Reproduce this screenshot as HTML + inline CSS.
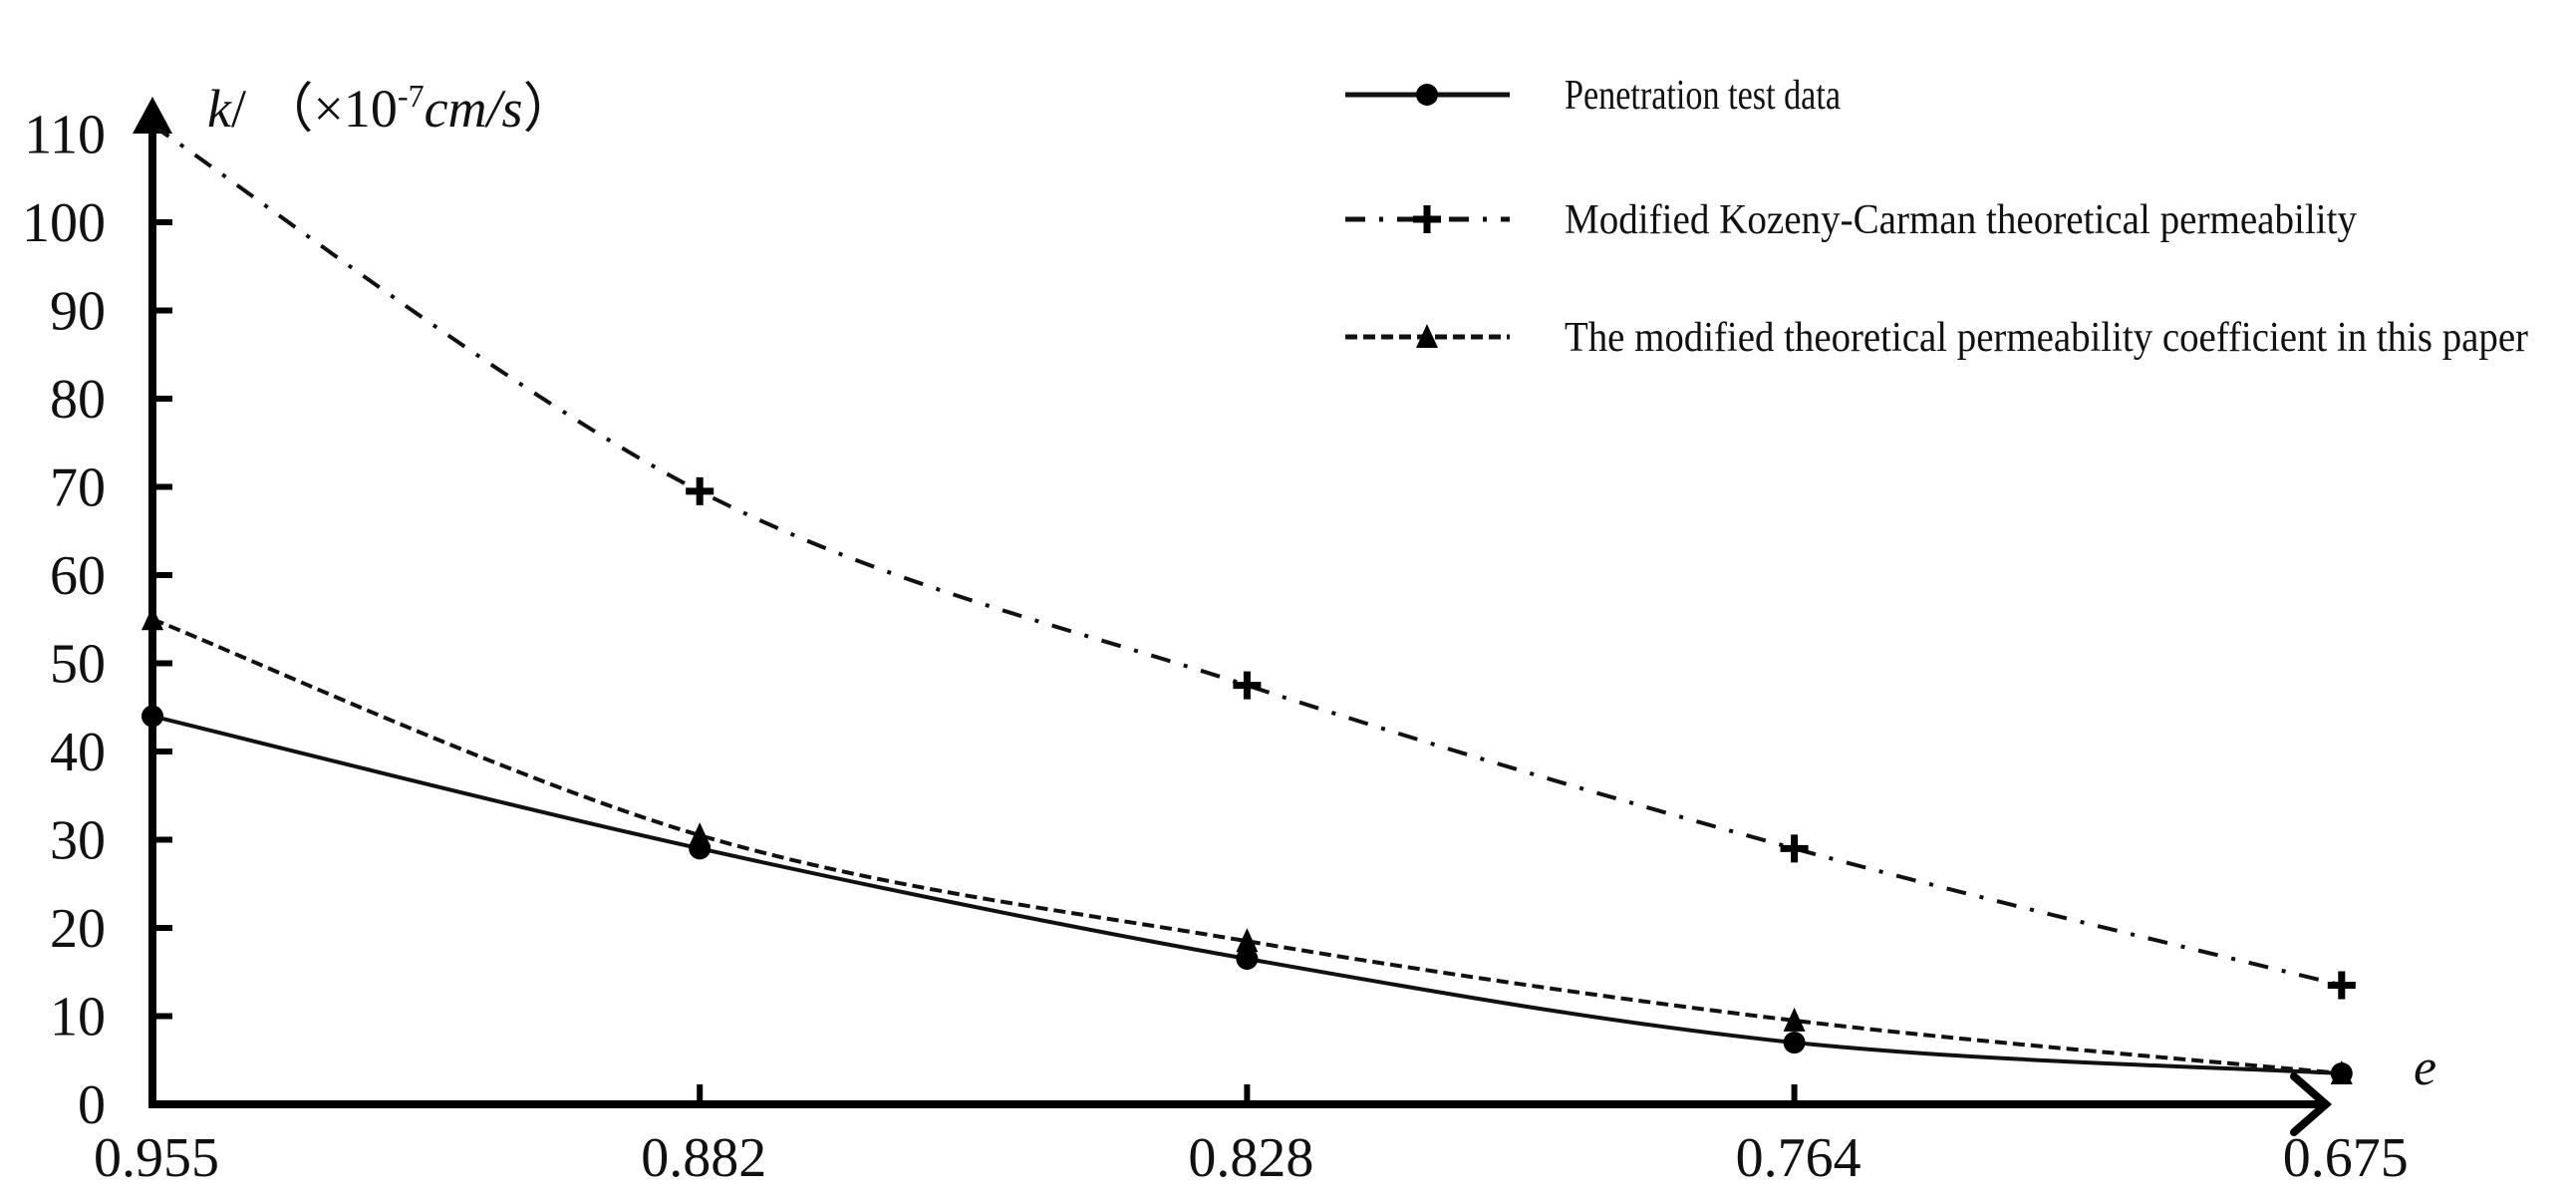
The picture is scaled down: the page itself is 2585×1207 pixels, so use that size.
<!DOCTYPE html>
<html><head><meta charset="utf-8"><style>
html,body{margin:0;padding:0;background:#fff;}
svg{display:block;}
text{font-family:"Liberation Serif",serif;fill:#111;}
</style></head><body>
<svg id="chart" width="2585" height="1207" viewBox="0 0 2585 1207" xmlns="http://www.w3.org/2000/svg">
<g id="axes"></g>
<g id="series"></g>
<g id="legend"></g>
<text x="208" y="127" font-size="54"><tspan font-style="italic">k</tspan>/ （×10<tspan font-size="32" dy="-20">-7</tspan><tspan dy="20" font-style="italic">cm/s</tspan>）</text>
<text x="2422" y="1088" font-size="52" font-style="italic">e</text>
</svg>
<script>
const categories = ["0.955","0.882","0.828","0.764","0.675"];
const yTicks = [0,10,20,30,40,50,60,70,80,90,100,110];
const penetration = [44, 29, 16.5, 7, 3.5];
const kozeny = [111, 69.5, 47.5, 29, 13.5];
const paper = [55, 30.5, 18.5, 9.5, 3.5];
const seriesNames = ["Penetration test data","Modified Kozeny-Carman theoretical permeability","The modified theoretical permeability coefficient in this paper"];

const NS="http://www.w3.org/2000/svg";
const X0=153, XSTEP=549.2, Y0=1108, YPER=8.85;
function xs(i){return X0+i*XSTEP;}
function ys(v){return Y0-v*YPER;}
function mk(tag,attrs,parent){const e=document.createElementNS(NS,tag);for(const k in attrs)e.setAttribute(k,attrs[k]);parent.appendChild(e);return e;}
const axes=document.getElementById('axes'), series=document.getElementById('series'), legend=document.getElementById('legend');

let e;
e=mk('line',{x1:X0,y1:Y0+4,x2:X0,y2:130,stroke:'#000','stroke-width':8},axes);


e=mk('polygon',{points:`${X0},97 ${X0-20},134 ${X0+20},134`,fill:'#000'},axes);


e=mk('line',{x1:X0-4,y1:Y0,x2:2332,y2:Y0,stroke:'#000','stroke-width':8},axes);


e=mk('polyline',{points:`2302,1080 2334,1108 2302,1136`,fill:'none',stroke:'#000','stroke-width':8,'stroke-linecap':'round'},axes);


yTicks.forEach(v=>{
  if(v>0&&v<110){
    e=mk('line',{x1:X0,y1:ys(v),x2:X0+20,y2:ys(v),stroke:'#000','stroke-width':6},axes);
    
    
  }
  e=mk('text',{x:106,y:ys(v)+19,'font-size':56,'text-anchor':'end'},axes);
  e.textContent=v;
  
  
});
categories.forEach((c,i)=>{
  if(i>0&&i<categories.length-1){
    e=mk('line',{x1:xs(i),y1:Y0,x2:xs(i),y2:Y0-20,stroke:'#000','stroke-width':6},axes);
    
    
  }
  e=mk('text',{x:xs(i)+4,y:1180,'font-size':56,'text-anchor':'middle'},axes);
  e.textContent=c;
  
  
});

function smoothPath(vals){
  const p=vals.map((v,i)=>[xs(i),ys(v)]);
  let d=`M${p[0][0]},${p[0][1]}`;
  for(let i=0;i<p.length-1;i++){
    const p0=p[Math.max(0,i-1)],p1=p[i],p2=p[i+1],p3=p[Math.min(p.length-1,i+2)];
    const t=1/6;
    const c1=[p1[0]+(p2[0]-p0[0])*t,p1[1]+(p2[1]-p0[1])*t];
    const c2=[p2[0]-(p3[0]-p1[0])*t,p2[1]-(p3[1]-p1[1])*t];
    d+=` C${c1[0]},${c1[1]} ${c2[0]},${c2[1]} ${p2[0]},${p2[1]}`;
  }
  return d;
}
function marker(type,x,y,g){
  let m;
  if(type==='circle') m=mk('circle',{cx:x,cy:y,r:11,fill:'#000'},g);
  else if(type==='plus') m=mk('path',{d:`M${x-14},${y}H${x+14}M${x},${y-14}V${y+14}`,stroke:'#000','stroke-width':7},g);
  else m=mk('polygon',{points:`${x},${y-13} ${x-11},${y+11} ${x+11},${y+11}`,fill:'#000'},g);
  return m;
}
const defs=[
 {vals:penetration,dash:'',m:'circle',name:'penetration'},
 {vals:kozeny,dash:'20 14 4 14',m:'plus',name:'kozeny-carman'},
 {vals:paper,dash:'12 6',m:'triangle',name:'paper-model'}
];
const legendRows=[95,220,338];
defs.forEach((s,si)=>{
  const g=mk('g',{},series);
  
  
  const attrs={d:smoothPath(s.vals),fill:'none',stroke:'#111','stroke-width':4};
  if(s.dash)attrs['stroke-dasharray']=s.dash;
  const pth=mk('path',attrs,g);
  
  
  s.vals.forEach((v,i)=>{
    const m=marker(s.m,xs(i),ys(v),g);
    
    
  });
  const ly=legendRows[si];
  const lg=mk('g',{},legend);
  
  
  const la={x1:1350,y1:ly,x2:1515,y2:ly,stroke:'#111','stroke-width':5};
  if(s.dash)la['stroke-dasharray']=s.dash;
  mk('line',la,lg);
  marker(s.m,1432,ly,lg);
  const tw=[277,795,967][si];
  const t=mk('text',{x:1570,y:ly+14,'font-size':42,textLength:tw,lengthAdjust:'spacingAndGlyphs'},lg);
  t.textContent=seriesNames[si];
  
  
});
</script>
</body></html>
